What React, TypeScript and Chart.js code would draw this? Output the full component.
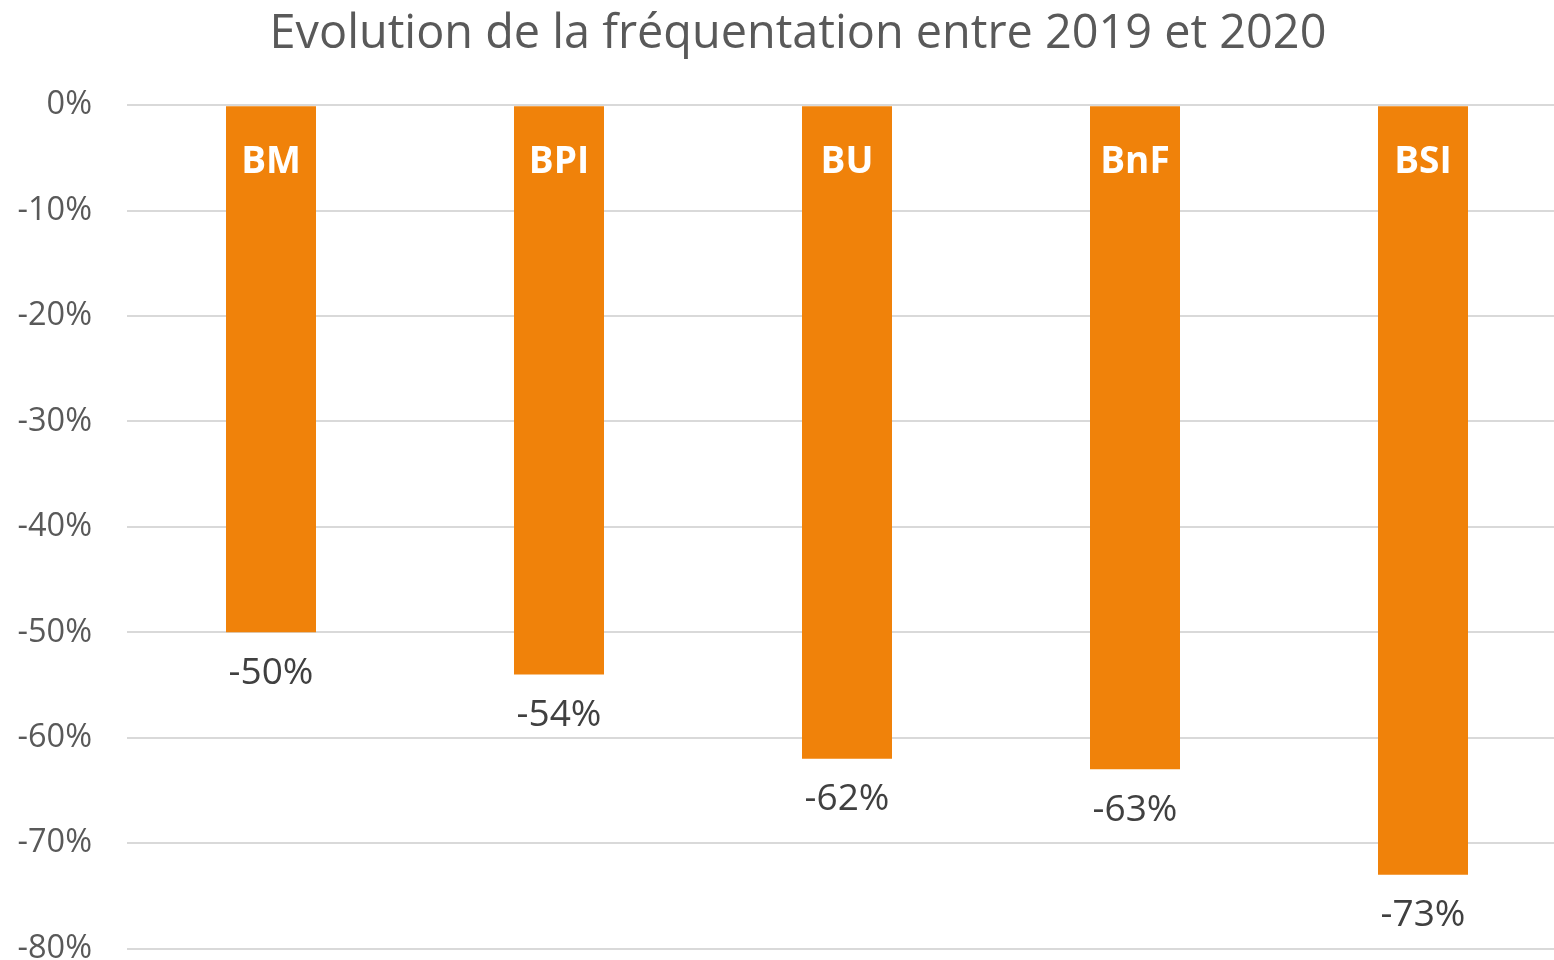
import React, { useEffect, useRef } from "react";
import { Chart, registerables } from "chart.js";

Chart.register(...registerables);

const categories = ["BM", "BPI", "BU", "BnF", "BSI"];
const values = [-50, -54, -62, -63, -73];
const titleText = "Evolution de la fréquentation entre 2019 et 2020";
const yMin = -80;
const yMax = 0;
const yStep = 10;

const FONT = "'Open Sans', sans-serif";
const TITLE_SIZE = 46.8;

const labelsPlugin = {
  id: "barLabels",
  afterDatasetsDraw(chart: any) {
    const ctx = chart.ctx;
    const meta = chart.getDatasetMeta(0);
    ctx.save();
    ctx.textAlign = "center";
    ctx.textBaseline = "middle";
    meta.data.forEach((bar: any, i: number) => {
      const props = bar.getProps(["x", "y", "base"], true);
      ctx.fillStyle = "#ffffff";
      ctx.font = `bold 37px ${FONT}`;
      ctx.fillText(categories[i], props.x, props.base + 56);
      ctx.fillStyle = "#404040";
      ctx.font = `37px ${FONT}`;
      ctx.fillText(`${values[i]}%`, props.x, props.y + 41);
    });
    // title, centred as in the reference
    ctx.fillStyle = "#595959";
    ctx.font = `${TITLE_SIZE}px ${FONT}`;
    ctx.fillText(titleText, 798, 35);
    ctx.restore();
  },
};

export default function App() {
  const ref = useRef<HTMLCanvasElement | null>(null);
  useEffect(() => {
    if (!ref.current) return;
    const chart = new Chart(ref.current, {
      type: "bar",
      data: {
        labels: categories,
        datasets: [
          {
            data: values,
            backgroundColor: "#F0820A",
            borderWidth: 0,
            categoryPercentage: 1,
            barPercentage: 0.3125,
          },
        ],
      },
      options: {
        animation: false,
        responsive: false,
        devicePixelRatio: 1,
        layout: { padding: { left: 0, right: 0, top: 0, bottom: 12 } },
        plugins: {
          legend: { display: false },
          tooltip: { enabled: false },
          title: {
            // reserves the title band; the visible title is drawn by the plugin
            display: true,
            text: titleText,
            color: "rgba(0,0,0,0)",
            font: { family: FONT, size: TITLE_SIZE, weight: "normal", lineHeight: 1.2 },
            padding: { top: 7, bottom: 42 },
          },
        },
        scales: {
          x: { display: false },
          y: {
            min: yMin,
            max: yMax,
            ticks: {
              stepSize: yStep,
              color: "#595959",
              font: { family: FONT, size: 32.5 },
              padding: 35,
              callback: (v: any) => `${v}%`,
            },
            grid: { color: "#d9d9d9", lineWidth: 2, drawTicks: false },
            border: { display: false },
            afterFit: (scale: any) => {
              scale.width = 127;
            },
          },
        },
      },
      plugins: [labelsPlugin],
    });
    return () => chart.destroy();
  }, []);
  return (
    <div
      style={{
        position: "fixed",
        left: 0,
        top: 0,
        width: 1554,
        height: 960,
        overflow: "hidden",
        background: "#ffffff",
      }}
    >
      <canvas ref={ref} width={1567} height={1003} style={{ display: "block" }} />
    </div>
  );
}
